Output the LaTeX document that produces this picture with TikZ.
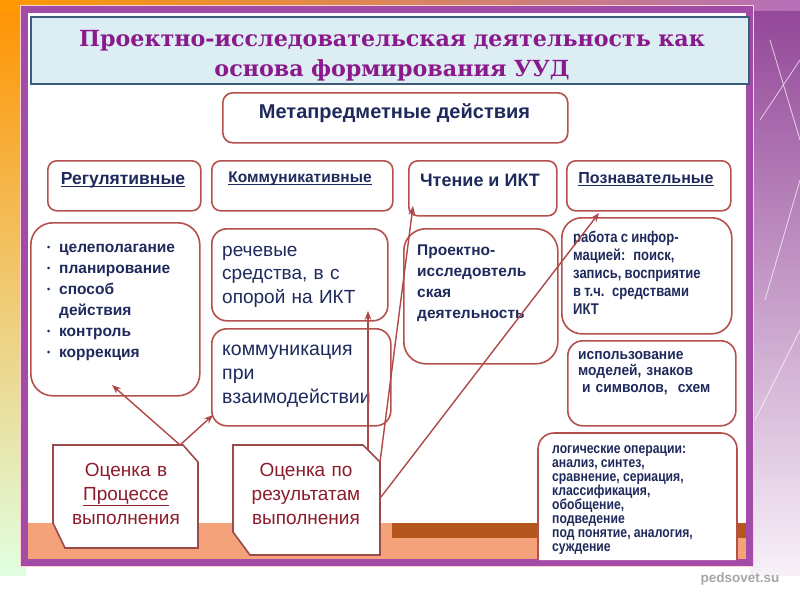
\documentclass[tikz,border=0pt]{standalone}
\usepackage{fontspec}
\setmainfont{Liberation Sans}
\newfontfamily\titlefont{DejaVu Serif}
\newfontfamily\narrowfont[FakeStretch=0.84]{Liberation Sans}
\newfontfamily\semifont[FakeStretch=0.92]{Liberation Sans}
\usetikzlibrary{arrows.meta,calc}
\definecolor{boxred}{HTML}{B4514C}
\definecolor{navy}{HTML}{1F2A5C}
\definecolor{titlepurple}{HTML}{8A1A8C}
\definecolor{titlebg}{HTML}{DCEEF4}
\definecolor{titleborder}{HTML}{3D5C7A}
\definecolor{framepurple}{HTML}{A24CA8}
\definecolor{salmon}{HTML}{F4A27A}
\definecolor{rust}{HTML}{B5561F}
\definecolor{evalred}{HTML}{8C1C2C}
\definecolor{arrowred}{HTML}{B04848}
\definecolor{evalborder}{HTML}{9A4A4A}
\newcommand{\thickul}[1]{\setbox0\hbox{#1}\leavevmode\rlap{\rule[-3pt]{\wd0}{1.3pt}}\box0}
\newcommand{\bul}{\makebox[12pt][l]{\raisebox{1.5pt}{\fontsize{9}{9}\selectfont\textbullet}}}
\newcommand{\tightsp}{\spaceskip=3.2pt plus 1pt\relax}
\tikzset{
  rbox/.style={draw=boxred, line width=1.6pt, fill=white, anchor=north west, inner sep=0pt, rounded corners=#1},
  rbox/.default=9pt,
  evalbox/.style={draw=evalborder, line width=1.6pt, fill=white},
  conn/.style={draw=arrowred, line width=1.4pt, -{Stealth[length=9pt,width=7pt]}},
  navytext/.style={color=navy, inner sep=0pt},
  evaltext/.style={color=evalred, inner sep=0pt, text width=150pt, align=center, anchor=base, font=\fontsize{19}{24}\selectfont}
}
\begin{document}
\begin{tikzpicture}[x=1pt,y=-1pt]
\useasboundingbox (0,0) rectangle (800,600);
% background
\fill[white] (0,0) rectangle (800,600);
\shade[top color=orange!85!yellow, middle color=yellow!20, bottom color=green!12] (0,0) rectangle (26,575);
\shade[top color=framepurple!90!black, middle color=framepurple!40, bottom color=framepurple!8] (750,0) rectangle (800,575);
\shade[left color=orange!80!yellow, right color=framepurple!80] (0,0) rectangle (800,10);
\draw[white, line width=0.8pt, opacity=0.7] (760,120) -- (800,60) (765,300) -- (800,180) (770,40) -- (800,140) (755,420) -- (800,330);
% frame
\fill[white] (24,9) rectangle (749.5,562.5);
\fill[salmon] (28,523) rectangle (746,559);
\fill[rust] (392,523) rectangle (746,538);
\draw[framepurple, line width=7pt] (24,9) rectangle (749.5,562.5);
\draw[pink!70!white, line width=1pt] (20.5,5.5) rectangle (753,566);
% title
\node[draw=titleborder, fill=titlebg, line width=1.5pt, minimum width=718pt, minimum height=67pt, anchor=north west, inner sep=0pt] (titlebox) at (30,16) {};
\node[font=\titlefont\bfseries\fontsize{22.2}{30}\selectfont, color=titlepurple, text width=700pt, align=center, anchor=base, inner sep=0pt] (title) at (392,46) {Проектно-исследовательская деятельность как\\основа формирования УУД};
% boxes
\node[rbox=10pt, minimum width=345pt, minimum height=50pt] (meta) at (222,92) {};
\node[rbox, minimum width=153pt, minimum height=50pt] (h1) at (47,160) {};
\node[rbox, minimum width=181pt, minimum height=50pt] (h2) at (211,160) {};
\node[rbox, minimum width=148pt, minimum height=55pt] (h3) at (408,160) {};
\node[rbox, minimum width=164pt, minimum height=50pt] (h4) at (566,160) {};
\node[rbox=22pt, minimum width=169pt, minimum height=173pt] (c1) at (30,222) {};
\node[rbox=15pt, minimum width=176pt, minimum height=92pt] (c2a) at (211,228) {};
\node[rbox=15pt, minimum width=179pt, minimum height=97pt] (c2b) at (211,328) {};
\node[rbox=22pt, minimum width=154pt, minimum height=135pt] (c3) at (403,228) {};
\node[rbox=20pt, minimum width=170pt, minimum height=116pt] (c4a) at (561,217) {};
\node[rbox=15pt, minimum width=168pt, minimum height=85pt] (c4b) at (567,340) {};
\draw[draw=boxred, line width=1.6pt, fill=white, rounded corners=16pt] (538,560) -- (538,433) -- (737,433) -- (737,560);
% evaluation boxes
\draw[evalbox] (53,445) -- (183,445) -- (198,462) -- (198,548) -- (65,548) -- (53,523) -- cycle;
\draw[evalbox] (233,445) -- (363,445) -- (380,462) -- (380,555) -- (250,555) -- (233,532) -- cycle;
% texts
\node[navytext, font=\bfseries\fontsize{20}{20}\selectfont] (metat) at (394.5,113) {Метапредметные действия};
\node[navytext, anchor=base, font=\bfseries\fontsize{17.5}{17.5}\selectfont] (h1t) at (123,184) {\thickul{Регулятивные}};
\node[navytext, anchor=base, font=\bfseries\fontsize{15.5}{16}\selectfont] (h2t) at (300,182) {\thickul{Коммуникативные}};
\node[navytext, anchor=base, font=\bfseries\fontsize{18}{18}\selectfont] (h3t) at (480,186) {Чтение и ИКТ};
\node[navytext, anchor=base, font=\bfseries\fontsize{16}{16}\selectfont] (h4t) at (646,183) {\thickul{Познавательные}};
\node[navytext, anchor=base west, text width=150pt, align=left, font=\bfseries\fontsize{15.5}{21}\selectfont] (c1t) at (47,252)
 {\bul целеполагание\\\bul планирование\\\bul способ\\\hspace*{12pt}действия\\\bul контроль\\\bul коррекция};
\node[navytext, anchor=base west, text width=165pt, align=left, font=\fontsize{19}{23.5}\selectfont] (c2at) at (222,256)
 {речевые\\средства, в с\\опорой на ИКТ};
\node[navytext, anchor=base west, text width=170pt, align=left, font=\fontsize{19.5}{24}\selectfont] (c2bt) at (222,355)
 {коммуникация\\при\\взаимодействии};
\node[navytext, anchor=base west, text width=140pt, align=left, font=\bfseries\fontsize{15.5}{21}\selectfont] (c3t) at (417,255)
 {Проектно-\\исследовтель\\ская\\деятельность};
\node[navytext, anchor=base west, text width=160pt, align=left, font=\narrowfont\bfseries\fontsize{15.5}{18}\selectfont] (c4at) at (573,242)
 {\tightsp работа с инфор-\\мацией: поиск,\\запись, восприятие\\в т.ч. средствами\\ИКТ};
\node[navytext, anchor=base west, text width=160pt, align=left, font=\semifont\bfseries\fontsize{15}{16.5}\selectfont] (c4bt) at (578,359)
 {использование\\моделей, знаков\\\hspace*{4pt}и символов,\ \ схем};
\node[navytext, anchor=base west, text width=190pt, align=left, font=\narrowfont\bfseries\fontsize{14.5}{14}\selectfont] (c4ct) at (552,453)
 {\tightsp логические операции:\\анализ, синтез,\\сравнение, сериация,\\классификация,\\обобщение,\\подведение\\под понятие, аналогия,\\суждение};
\node[evaltext] (e1t) at (126,476) {Оценка в\\\underline{Процессе}\\выполнения};
\node[evaltext] (e2t) at (306,476) {Оценка по\\результатам\\выполнения};
\node[color=gray!70, font=\bfseries\fontsize{13.5}{13.5}\selectfont, inner sep=0pt] (wm) at (740,579) {pedsovet.su};
% connectors
\coordinate (s1) at (180,445);
\coordinate (s3) at (368,450);
\coordinate (s4) at (380,462);
\coordinate (s5) at (381,497);
\coordinate (t1) at (112,385);
\coordinate (t2) at (213,415);
\coordinate (t3) at (368,311);
\coordinate (t4) at (413,206);
\coordinate (t5) at (599,213);
\draw[conn] (s1) -- (t1);
\draw[conn] (s1) -- (t2);
\draw[conn] (s3) -- (t3);
\draw[conn] (s4) -- (t4);
\draw[conn] (s5) -- (t5);
\end{tikzpicture}
\end{document}
